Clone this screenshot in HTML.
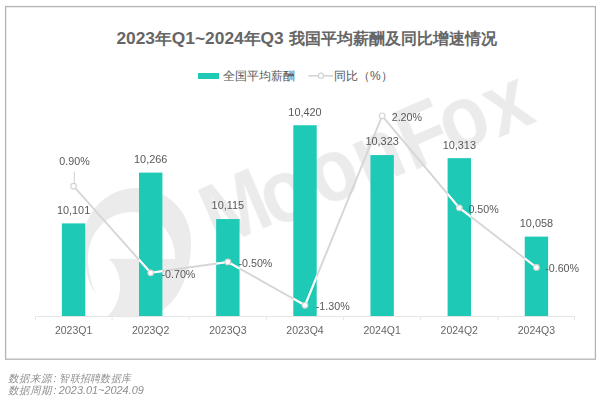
<!DOCTYPE html>
<html><head><meta charset="utf-8">
<style>
html,body{margin:0;padding:0;background:#fff;}
body{width:600px;height:403px;overflow:hidden;position:relative;font-family:"Liberation Sans",sans-serif;}
svg{position:absolute;left:0;top:0;display:block;}
.t{font-family:"Liberation Sans",sans-serif;}
</style></head><body>
<svg width="600" height="403" viewBox="0 0 600 403">
<defs><clipPath id="bc"><rect x="61.87" y="223.38" width="23.4" height="92.62"/><rect x="139.01" y="172.61" width="23.4" height="143.39"/><rect x="216.16" y="219.07" width="23.4" height="96.93"/><rect x="293.30" y="125.23" width="23.4" height="190.77"/><rect x="370.44" y="155.07" width="23.4" height="160.93"/><rect x="447.59" y="158.15" width="23.4" height="157.85"/><rect x="524.73" y="236.61" width="23.4" height="79.39"/></clipPath></defs>
<!-- frame -->
<rect x="5.6" y="6.6" width="589.8" height="352.6" fill="#fff" stroke="#b4b4b4" stroke-width="1.3"/>

<!-- title -->
<text class="t" x="116.4" y="44" textLength="167.3" lengthAdjust="spacingAndGlyphs" font-size="16.45" font-weight="bold" fill="#666">2023年Q1~2024年Q3</text>
<text class="t" x="289.2" y="44" textLength="207.5" lengthAdjust="spacingAndGlyphs" font-size="16.45" font-weight="bold" fill="#666">我国平均薪酬及同比增速情况</text>

<!-- legend -->
<rect x="198" y="73" width="21" height="6" fill="#1EC9B6"/>
<text class="t" x="222.5" y="79.5" font-size="12" fill="#595959">全国平均薪酬</text>
<line x1="308.5" y1="75.8" x2="333" y2="75.8" stroke="#d4d4d4" stroke-width="1.6"/>
<circle cx="321" cy="75.8" r="2.6" fill="#fff" stroke="#d4d4d4" stroke-width="1.2"/>
<text class="t" x="334" y="79.5" font-size="12" fill="#595959">同比（%）</text>

<!-- watermark -->
<g fill="rgb(110,110,110)" opacity="0.14">
<path d="M96,294 C87,282 83,262 83,242 A54,54 0 0 1 191,242 C191,270 182,298 160,312 Q140,320 108,316 Q118,306 120,290 Q121,270 108.8,258.8 L175.3,259 A43.8,47 0 1 0 87.7,259 Q89,280 96,294 Z"/>
<text transform="translate(213.4 254.1) rotate(-23.3) scale(1 1.15)" font-family="Liberation Sans" font-weight="bold" font-size="78"><tspan dx="5.9 -5.9 5.4 0.6 1.3 -4.3 1.2" dy="-3 3 0 1 1.75 0.05 2.7">MoonFox</tspan></text>
</g>

<!-- axis -->
<g stroke="#e6e6e6" stroke-width="1">
<line x1="35" y1="316.5" x2="575" y2="316.5"/>
<line x1="35.5" y1="316.5" x2="35.5" y2="320"/>
<line x1="112.1" y1="316.5" x2="112.1" y2="320"/>
<line x1="189.3" y1="316.5" x2="189.3" y2="320"/>
<line x1="266.4" y1="316.5" x2="266.4" y2="320"/>
<line x1="343.6" y1="316.5" x2="343.6" y2="320"/>
<line x1="420.7" y1="316.5" x2="420.7" y2="320"/>
<line x1="497.9" y1="316.5" x2="497.9" y2="320"/>
<line x1="574.5" y1="316.5" x2="574.5" y2="320"/>
</g>

<!-- bars -->
<g fill="#1EC9B6">
<rect x="61.87" y="223.38" width="23.4" height="92.62"/>
<rect x="139.01" y="172.61" width="23.4" height="143.39"/>
<rect x="216.16" y="219.07" width="23.4" height="96.93"/>
<rect x="293.30" y="125.23" width="23.4" height="190.77"/>
<rect x="370.44" y="155.07" width="23.4" height="160.93"/>
<rect x="447.59" y="158.15" width="23.4" height="157.85"/>
<rect x="524.73" y="236.61" width="23.4" height="79.39"/>
</g>

<!-- line -->
<line x1="74.3" y1="171.5" x2="74.3" y2="183.5" stroke="#d0d0d0" stroke-width="1"/>
<polyline points="73.57,186.17 150.71,272.80 227.86,261.97 305.00,305.28 382.14,115.79 459.29,207.83 536.43,267.38" fill="none" stroke="#d6d6d6" stroke-width="1.9" stroke-linejoin="round"/>
<polyline points="73.57,186.17 150.71,272.80 227.86,261.97 305.00,305.28 382.14,115.79 459.29,207.83 536.43,267.38" fill="none" stroke="#fff" stroke-width="2.1" stroke-linejoin="round" clip-path="url(#bc)" opacity="0.95"/>
<g fill="#fff" stroke="#d4d4d4" stroke-width="1.2">
<circle cx="73.57" cy="186.17" r="2.8"/>
<circle cx="150.71" cy="272.80" r="2.8"/>
<circle cx="227.86" cy="261.97" r="2.8"/>
<circle cx="305.00" cy="305.28" r="2.8"/>
<circle cx="382.14" cy="115.79" r="2.8"/>
<circle cx="459.29" cy="207.83" r="2.8"/>
<circle cx="536.43" cy="267.38" r="2.8"/>
</g>

<!-- bar labels -->
<g class="t" font-size="10.9" fill="#595959" text-anchor="middle">
<text x="73.57" y="213.78">10,101</text>
<text x="150.71" y="163.01">10,266</text>
<text x="227.86" y="209.47">10,115</text>
<text x="305.00" y="115.63">10,420</text>
<text x="382.14" y="145.47">10,323</text>
<text x="459.29" y="148.55">10,313</text>
<text x="536.43" y="227.01">10,058</text>
</g>

<!-- line labels -->
<g class="t" font-size="10.7" fill="#595959">
<text x="74.5" y="164.8" text-anchor="middle">0.90%</text>
<text x="161.5" y="277.8">-0.70%</text>
<text x="238.5" y="266.9">-0.50%</text>
<text x="315.8" y="310.1">-1.30%</text>
<text x="391.7" y="120.8">2.20%</text>
<text x="468.4" y="213">0.50%</text>
<text x="545.2" y="272">-0.60%</text>
</g>

<!-- category labels -->
<g class="t" font-size="10.5" fill="#666" text-anchor="middle">
<text x="73.57" y="333.8">2023Q1</text>
<text x="150.71" y="333.8">2023Q2</text>
<text x="227.86" y="333.8">2023Q3</text>
<text x="305.00" y="333.8">2023Q4</text>
<text x="382.14" y="333.8">2024Q1</text>
<text x="459.29" y="333.8">2024Q2</text>
<text x="536.43" y="333.8">2024Q3</text>
</g>

<!-- footnotes -->
<g class="t" font-size="10.5" font-style="italic" fill="#8f8f8f">
<text x="7.5" y="382">数据来源<tspan x="53.5">:</tspan><tspan x="59.4" textLength="71.6" lengthAdjust="spacingAndGlyphs">智联招聘数据库</tspan></text>
<text x="7.5" y="393.5">数据周期<tspan x="53.5">:</tspan><tspan x="58.75" textLength="85" lengthAdjust="spacingAndGlyphs">2023.01~2024.09</tspan></text>
</g>
</svg>
</body></html>
